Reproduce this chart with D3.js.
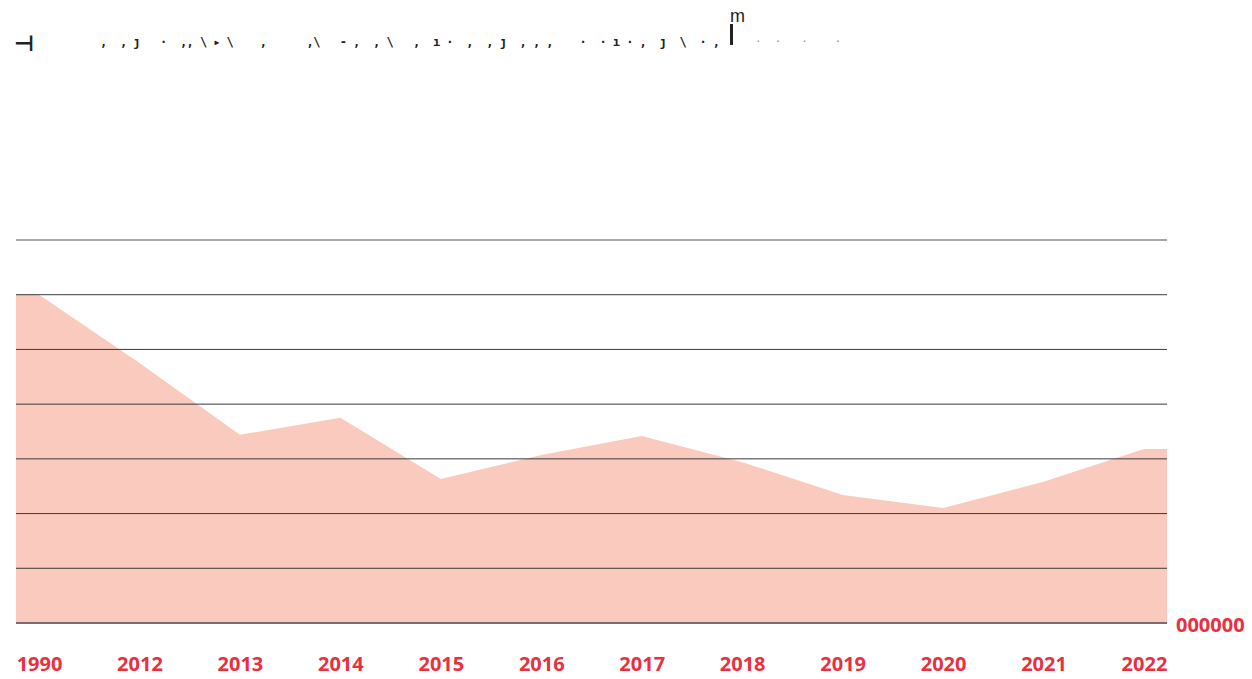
<!DOCTYPE html>
<html>
<head>
<meta charset="utf-8">
<script src="https://cdn.jsdelivr.net/npm/d3@7"></script>
<style>
  html, body { margin: 0; padding: 0; background: #ffffff; }
  svg { display: block; }
</style>
</head>
<body>
<svg id="chart" width="1252" height="679"></svg>
<script>
// ---- data ----
const categories = ["1990", "2012", "2013", "2014", "2015", "2016", "2017", "2018", "2019", "2020", "2021", "2022"];
const values = [6.0, 4.75, 3.44, 3.75, 2.63, 3.07, 3.42, 2.94, 2.34, 2.10, 2.58, 3.18];
const yTicks = [0, 1, 2, 3, 4, 5, 6, 7];
const yTickLabels = ["000000"];
const titleFragments = ",  , ȷ   ·  ,, \\ ▸ \\    ,      ,\\   - ,  , \\   ,  ı ·  ,  , ȷ  , , ,    ·  · ı · ,  ȷ  \\  · ,";

// ---- layout ----
const svg = d3.select("#chart");
const plotLeft = 16, plotRight = 1167, plotTop = 240, plotBottom = 623;
const red = "#e8303e";
const fontFam = "'Open Sans', 'Noto Sans', sans-serif";

const x = d3.scalePoint().domain(categories).range([plotLeft, plotRight]).padding(0.229);
const y = d3.scaleLinear().domain([0, 7]).range([plotBottom, plotTop]);

// ---- title (garbled fragments as in reference) ----
svg.append("text").attr("x", 14).attr("y", 51)
  .attr("font-family", "DejaVu Sans").attr("font-size", 22).attr("font-weight", "bold").attr("fill", "#222")
  .text("⊣");
svg.append("text").attr("x", 100).attr("y", 46)
  .attr("font-family", "DejaVu Sans Mono").attr("font-size", 12).attr("font-weight", "bold")
  .attr("fill", "#222").style("white-space", "pre")
  .attr("textLength", 620).attr("lengthAdjust", "spacing")
  .text(titleFragments);
svg.append("line").attr("x1", 731.5).attr("x2", 731.5).attr("y1", 24).attr("y2", 45)
  .attr("stroke", "#222").attr("stroke-width", 3);
svg.append("text").attr("x", 730).attr("y", 22)
  .attr("font-family", "Liberation Sans").attr("font-size", 18).attr("fill", "#222")
  .text("m");
svg.append("text").attr("x", 755).attr("y", 45)
  .attr("font-family", "DejaVu Sans Mono").attr("font-size", 11)
  .attr("fill", "#999").style("white-space", "pre")
  .text("·  ·   ·    ·");

// ---- area ----
const pts = categories.map((c, i) => ({ x: x(c), v: values[i] }));
const full = [{ x: plotLeft, v: values[0] }, ...pts, { x: plotRight, v: values[values.length - 1] }];
const area = d3.area().x(d => d.x).y0(y(0)).y1(d => y(d.v));
svg.append("path").datum(full).attr("d", area).attr("fill", "#f9cabd");

// ---- gridlines ----
svg.append("g").selectAll("line").data(yTicks.filter(t => t > 0)).join("line")
  .attr("x1", plotLeft).attr("x2", plotRight)
  .attr("y1", d => y(d)).attr("y2", d => y(d))
  .attr("stroke", d => d === 7 ? "#8a8a8a" : "#3a3a3a")
  .attr("stroke-width", d => d === 7 ? 1.3 : 1);

// baseline
svg.append("line").attr("x1", plotLeft).attr("x2", plotRight)
  .attr("y1", y(0)).attr("y2", y(0))
  .attr("stroke", "#786e6a").attr("stroke-width", 2);

// ---- y tick label ----
svg.append("g").selectAll("text").data(yTickLabels).join("text")
  .attr("x", plotRight + 9).attr("y", (d, i) => y(yTicks[i]) + 9)
  .attr("font-family", fontFam).attr("font-weight", "bold").attr("font-size", 20)
  .attr("fill", red).text(d => d);

// ---- x axis labels ----
const xAxis = d3.axisBottom(x).tickSize(0).tickPadding(0);
const gx = svg.append("g").attr("transform", `translate(0,${plotBottom})`).call(xAxis);
gx.select(".domain").remove();
gx.selectAll("text")
  .attr("y", 48).attr("dy", null)
  .attr("font-family", fontFam).attr("font-weight", "bold").attr("font-size", 20)
  .attr("fill", red);
</script>
</body>
</html>
